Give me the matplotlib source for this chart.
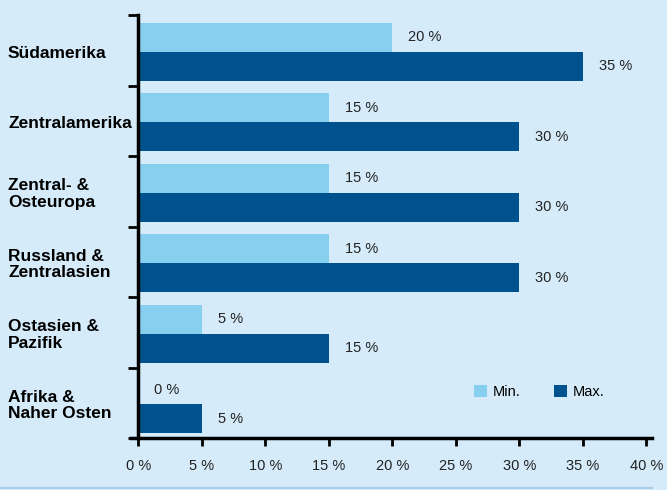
import matplotlib
matplotlib.use('Agg')
import matplotlib.pyplot as plt
import matplotlib.transforms as mtransforms
import numpy as np

regions = ['Südamerika', 'Zentralamerika', 'Zentral- &\nOsteuropa',
           'Russland &\nZentralasien', 'Ostasien &\nPazifik', 'Afrika &\nNaher Osten']
min_vals = [20, 15, 15, 15, 5, 0]
max_vals = [35, 30, 30, 30, 15, 5]
xticks = [0, 5, 10, 15, 20, 25, 30, 35, 40]

BG = '#D5EBF9'
LIGHT = '#87CFEF'
DARK = '#00528E'

plt.rcParams['font.family'] = ['Liberation Sans', 'DejaVu Sans']

fig = plt.figure(figsize=(6.67, 4.90), dpi=100, facecolor=BG)
ax = fig.add_axes([0.2076, 0.106, 0.7616, 0.863], facecolor=BG)

y = np.arange(len(regions))
h = 0.41
ax.barh(y - h / 2 + 0.02, min_vals, height=h, color=LIGHT, label='Min.')
ax.barh(y + h / 2 + 0.02, max_vals, height=h, color=DARK, label='Max.')

for yi, v in zip(y, min_vals):
    ax.text(v + 1.25, yi - h / 2 + 0.02, f'{v} %', va='center', ha='left',
            fontsize=10.5, color='#222222')
for yi, v in zip(y, max_vals):
    ax.text(v + 1.25, yi + h / 2 + 0.02, f'{v} %', va='center', ha='left',
            fontsize=10.5, color='#222222')

ax.set_xlim(0, 40)
ax.set_ylim(5.5, -0.5)
ax.set_xticks(xticks)
ax.set_xticklabels([f'{t} %' for t in xticks], fontsize=10.5, color='#222222')
ax.set_yticks(np.arange(-0.5, 6, 1))
ax.set_yticklabels([])
ax.tick_params(axis='y', length=7, width=2, direction='out')
ax.tick_params(axis='x', length=6, width=2, direction='out', pad=9)

for s in ['top', 'right']:
    ax.spines[s].set_visible(False)
for s in ['left', 'bottom']:
    ax.spines[s].set_linewidth(2.5)
ax.spines['bottom'].set_bounds(-0.55, 40.45)

trans = mtransforms.blended_transform_factory(fig.transFigure, ax.transData)
for yi, name in zip(y, regions):
    ax.text(0.012, yi + 0.04, name, transform=trans, ha='left', va='center',
            fontsize=12.5, fontweight='bold', linespacing=1.12)

ax.legend(loc='center left', bbox_to_anchor=(0.634, 0.109), ncol=2,
          frameon=False, fontsize=10.5, handlelength=0.9, handleheight=0.9,
          columnspacing=2.3, handletextpad=0.4)

fig.add_artist(plt.Line2D([0, 0.977], [0.004, 0.004], color='#A9CDE6',
                          linewidth=1.5, transform=fig.transFigure))

fig.savefig('out.png', dpi=100, facecolor=BG)
